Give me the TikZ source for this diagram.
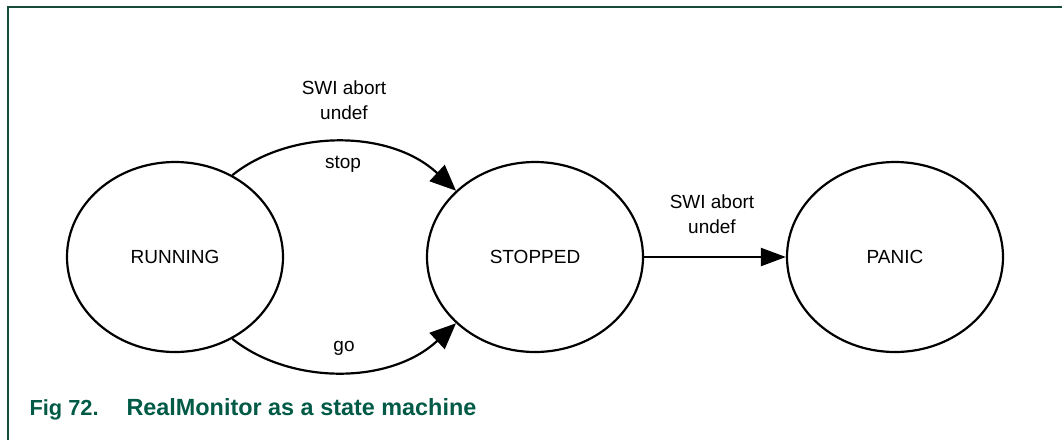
\documentclass[tikz,border=0pt]{standalone}
\usepackage{fontspec}
\setmainfont{Liberation Sans}
\usetikzlibrary{shapes.geometric, arrows.meta}

\definecolor{framegreen}{RGB}{22,76,60}
\definecolor{capgreen}{RGB}{0,90,70}

\tikzset{
  statebox/.style={draw, ellipse, line width=2.2pt, minimum width=216pt, minimum height=190pt,
                   inner sep=0pt, font=\fontsize{19}{23}\selectfont},
  trans/.style={line width=2.2pt, -{Triangle[length=26pt, width=22pt]}},
  lbl/.style={align=center, font=\fontsize{19}{25}\selectfont},
  caption/.style={anchor=base west, capgreen, font=\fontsize{22.5}{27}\bfseries}
}

\begin{document}
\begin{tikzpicture}[x=1pt, y=-1pt]

     \useasboundingbox (0,0) rectangle (1062,440);

     % frame
     \coordinate (fbot) at (8,440);
     \coordinate (fcorner) at (8,7);
     \coordinate (fright) at (1062,7);
     \draw[framegreen, line width=2pt] (fbot) -- (fcorner) -- (fright);

     % states
     \node[statebox] (running) at (175,257) {RUNNING};
     \node[statebox] (stopped) at (535,257) {STOPPED};
     \node[statebox] (panic) at (895,257) {PANIC};

     % transitions
     \draw[trans] (running.55) .. controls (290,129) and (390,129) .. (stopped.140);
     \draw[trans] (running.-55) .. controls (290,385) and (390,385) .. (stopped.-140);
     \draw[trans, -{Triangle[length=25pt, width=18pt]}] (stopped.east) -- (panic.west);

     % labels
     \node[lbl] (swi1) at (344,100) {SWI abort\\undef};
     \node[lbl] (stoplbl) at (343,164) {stop};
     \node[lbl] (golbl) at (344,348) {go};
     \node[lbl] (swi2) at (712,214) {SWI abort\\undef};

     % caption
     \node[caption, font=\fontsize{21.8}{27}\bfseries] (fig) at (26,415) {Fig 72.};
     \node[caption, font=\fontsize{23.4}{27}\bfseries] (title) at (123,415) {RealMonitor as a state machine};

\end{tikzpicture}
\end{document}
